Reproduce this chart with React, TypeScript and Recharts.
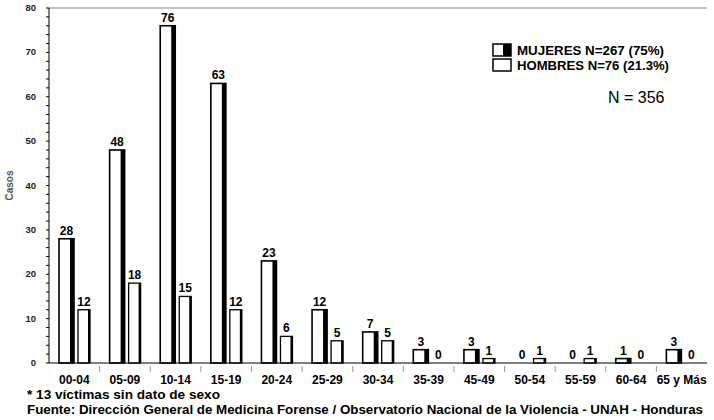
import React from "react"
import { BarChart, Bar, XAxis, YAxis, LabelList, ReferenceLine } from "recharts"

const grupos = ["00-04", "05-09", "10-14", "15-19", "20-24", "25-29", "30-34", "35-39", "45-49", "50-54", "55-59", "60-64", "65 y Más"]
const mujeres = [28, 48, 76, 63, 23, 12, 7, 3, 3, 0, 0, 1, 3]
const hombres = [12, 18, 15, 12, 6, 5, 5, 0, 1, 1, 1, 0, 0]
const yTicks = [0, 2, 4, 6, 8, 10, 12, 14, 16, 18, 20, 22, 24, 26, 28, 30, 32, 34, 36, 38, 40, 42, 44, 46, 48, 50, 52, 54, 56, 58, 60, 62, 64, 66, 68, 70, 72, 74, 76, 78, 80]

const data = grupos.map((g, i) => ({ grupo: g, mujeres: mujeres[i], hombres: hombres[i] }))

const FONT = "'Liberation Sans', Arial, sans-serif"

function MujerBar(props: any) {
  const { x, y, width, height } = props
  if (!height || height <= 0) return null
  return (
    <g>
      <rect x={x} y={y} width={width} height={height} fill="#fff" stroke="#000" strokeWidth={1.6} />
      <rect x={x + width - 4} y={y} width={4} height={height} fill="#000" />
    </g>
  )
}

function HombreBar(props: any) {
  const { x, y, width, height } = props
  if (!height || height <= 0) return null
  return (
    <g>
      <rect x={x} y={y} width={width} height={height} fill="#fff" stroke="#000" strokeWidth={1.3} />
      <rect x={x + width - 2} y={y} width={2} height={height} fill="#000" />
    </g>
  )
}

function YTick(props: any) {
  const { x, y, payload } = props
  if (payload.value % 10 !== 0) return null
  return (
    <text x={x} y={y} dy={3} textAnchor="end" fontSize={9.5} fontWeight="bold" fill="#222" fontFamily={FONT}>
      {payload.value}
    </text>
  )
}

function XTick(props: any) {
  const { x, y, payload, width, visibleTicksCount } = props
  const band = width / visibleTicksCount
  const last = payload.index === visibleTicksCount - 1
  return (
    <g>
      <text x={x} y={y} dy={21} textAnchor="middle" fontSize={12} fontWeight="bold" fill="#000" fontFamily={FONT}>
        {payload.value}
      </text>
      {!last && <line x1={x + band / 2} x2={x + band / 2} y1={y + 3} y2={y + 9} stroke="#999" strokeWidth={1} />}
    </g>
  )
}

export default function App() {
  return (
    <div style={{ position: "absolute", left: 0, top: 0, width: 714, height: 420, background: "#fff" }}>
      <BarChart width={714} height={420} data={data} margin={{ top: 8, right: 7, left: 9, bottom: 27 }} barGap={4}>
        <XAxis dataKey="grupo" height={30} tickLine={false} tickSize={0} tickMargin={0} axisLine={{ stroke: "#000" }} tick={<XTick />} interval={0} />
        <YAxis yAxisId="l" width={40} domain={[0, 80]} ticks={yTicks} interval={0} tickSize={3} tickMargin={10} tickLine={{ stroke: "#000" }} axisLine={{ stroke: "#000" }} tick={<YTick />}
          label={{ value: "Casos", angle: -90, position: "insideLeft", offset: 0, style: { fontSize: 10, fontWeight: "bold", fill: "#555", fontFamily: FONT, textAnchor: "middle" } }} />
        <YAxis yAxisId="r" orientation="right" width={0} domain={[0, 80]} tick={false} tickLine={false} axisLine={{ stroke: "#888" }} />
        <ReferenceLine yAxisId="l" y={80} stroke="#888" />
        <Bar yAxisId="l" dataKey="mujeres" barSize={15} shape={<MujerBar />} isAnimationActive={false}>
          <LabelList dataKey="mujeres" position="top" offset={4} style={{ fontSize: 12, fontWeight: "bold", fill: "#000", fontFamily: FONT }} />
        </Bar>
        <Bar yAxisId="l" dataKey="hombres" barSize={12} shape={<HombreBar />} isAnimationActive={false}>
          <LabelList dataKey="hombres" position="top" offset={4} style={{ fontSize: 12, fontWeight: "bold", fill: "#000", fontFamily: FONT }} />
        </Bar>
      </BarChart>
      <svg width={714} height={420} style={{ position: "absolute", left: 0, top: 0, pointerEvents: "none" }} fontFamily={FONT}>
        <rect x={493} y={44} width={18} height={12} fill="#fff" stroke="#000" strokeWidth={1.5} />
        <rect x={503} y={44} width={8} height={12} fill="#000" />
        <rect x={493} y={59} width={18} height={12} fill="#fff" stroke="#000" strokeWidth={1.5} />
        <text x={517} y={55} fontSize={13} fontWeight="bold" textLength={147} lengthAdjust="spacingAndGlyphs">MUJERES N=267 (75%)</text>
        <text x={517} y={70} fontSize={13} fontWeight="bold" textLength={152} lengthAdjust="spacingAndGlyphs">HOMBRES N=76 (21.3%)</text>
        <text x={608} y={103} fontSize={16}>N = 356</text>
        <text x={27} y={399} fontSize={13} fontWeight="bold" textLength={193} lengthAdjust="spacingAndGlyphs">* 13 víctimas sin dato de sexo</text>
        <text x={27} y={414} fontSize={13} fontWeight="bold" textLength={676} lengthAdjust="spacingAndGlyphs">Fuente: Dirección General de Medicina Forense / Observatorio Nacional de la Violencia - UNAH - Honduras</text>
      </svg>
    </div>
  )
}
